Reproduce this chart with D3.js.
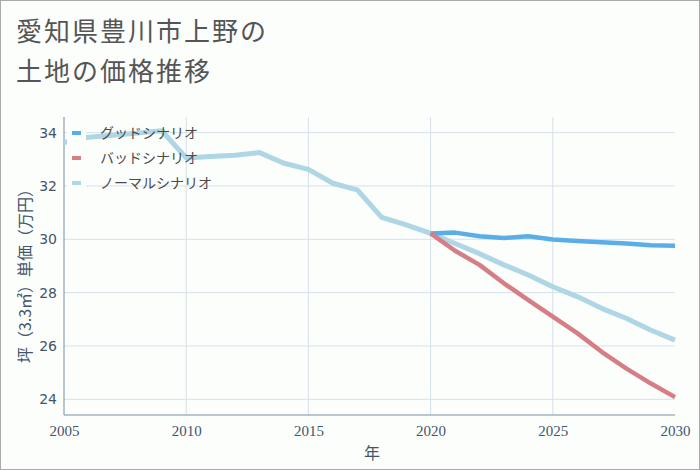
<!DOCTYPE html>
<html><head><meta charset="utf-8">
<script src="https://cdn.jsdelivr.net/npm/d3@7"></script>
<style>body{margin:0;background:#fff;}svg{display:block;}</style>
</head><body><svg id="c" width="700" height="470"></svg>
<script>
const titleLines = ["愛知県豊川市上野の", "土地の価格推移"];
const yearsPast = [2005,2006,2007,2008,2009,2010,2011,2012,2013,2014,2015,2016,2017,2018,2019,2020];
const normalPast = [33.63,33.83,33.9,33.98,34.07,33.05,33.1,33.15,33.25,32.85,32.62,32.1,31.85,30.82,30.54,30.22];
const yearsFuture = [2020,2021,2022,2023,2024,2025,2026,2027,2028,2029,2030];
const goodValues = [30.22,30.25,30.11,30.05,30.11,29.99,29.94,29.89,29.84,29.78,29.76];
const badValues = [30.22,29.57,29.04,28.35,27.72,27.1,26.48,25.78,25.16,24.6,24.08];
const normalFuture = [30.22,29.84,29.46,29.04,28.66,28.22,27.85,27.41,27.04,26.6,26.22];
const yTicks = [24,26,28,30,32,34];
const xTicks = [2005,2010,2015,2020,2025,2030];
const legendNames = ["グッドシナリオ","バッドシナリオ","ノーマルシナリオ"];
const colors = ["#5aaee8","#d57e86","#aed6e4"];
const yTitle = "坪（3.3㎡）単価（万円）";
const xTitle = "年";

(function(){
const svg = d3.select("#c");
svg.append("rect").attr("x",0.5).attr("y",0.5).attr("width",699).attr("height",469)
  .attr("fill","#fcfefc").attr("stroke","#aaaaaa");

const pL=64,pR=675,pT=117,pB=415;
const x = d3.scaleLinear().domain([2005,2030]).range([pL,pR]);
const y = d3.scaleLinear().domain([24,34]).range([399.3,132.6]);

// gridlines
svg.append("g").selectAll("line").data(yTicks).join("line")
  .attr("x1",pL).attr("x2",pR).attr("y1",d=>y(d)).attr("y2",d=>y(d))
  .attr("stroke","#d6e0ea").attr("stroke-width",1);
svg.append("g").selectAll("line").data(xTicks.slice(1,5)).join("line")
  .attr("y1",pT).attr("y2",pB).attr("x1",d=>x(d)).attr("x2",d=>x(d))
  .attr("stroke","#d6e0ea").attr("stroke-width",1);

// axes
const ya = svg.append("g").attr("transform",`translate(${pL},0)`)
  .call(d3.axisLeft(y).tickValues(yTicks).tickSize(0).tickPadding(7).tickFormat(d3.format("d")));
ya.select(".domain").remove();
ya.selectAll("text").attr("font-family","DejaVu Sans, sans-serif").attr("font-size",14).attr("fill","#44546a");
const xa = svg.append("g").attr("transform",`translate(0,${pB})`)
  .call(d3.axisBottom(x).tickValues(xTicks).tickSize(0).tickPadding(10).tickFormat(d3.format("d")));
xa.select(".domain").remove();
xa.selectAll("text").attr("font-family","Liberation Serif, serif").attr("font-size",15).attr("fill","#44546a");
svg.append("line").attr("x1",pL).attr("x2",pL).attr("y1",pT).attr("y2",pB).attr("stroke","#7a8ca0");
svg.append("line").attr("x1",pL).attr("x2",pR).attr("y1",pB).attr("y2",pB).attr("stroke","#7a8ca0");

// titles
svg.append("text").attr("x",372).attr("y",459).attr("text-anchor","middle")
  .attr("font-family","Noto Sans CJK JP, sans-serif").attr("font-size",16).attr("fill","#44546a").text(xTitle);
svg.append("text").attr("transform","translate(31,272) rotate(-90)").attr("text-anchor","middle")
  .attr("font-family","Noto Sans CJK JP, sans-serif").attr("font-size",16).attr("fill","#44546a").text(yTitle);
svg.append("g").selectAll("text").data(titleLines).join("text")
  .attr("x",16).attr("y",(d,i)=>41+i*40).attr("letter-spacing",2)
  .attr("font-family","Noto Sans CJK JP, sans-serif").attr("font-size",26).attr("fill","#555555").text(d=>d);

// lines
const line = d3.line().x(d=>x(d[0])).y(d=>y(d[1]));
const series = [
  {vals:d3.zip(yearsPast,normalPast).concat(d3.zip(yearsFuture,normalFuture).slice(1)), c:colors[2], w:5},
  {vals:d3.zip(yearsFuture,goodValues), c:colors[0], w:4.5},
  {vals:d3.zip(yearsFuture,badValues), c:colors[1], w:4.5}
];
svg.append("g").selectAll("path").data(series).join("path")
  .attr("d",d=>line(d.vals)).attr("fill","none").attr("stroke",d=>d.c).attr("stroke-width",d=>d.w)
  .attr("stroke-linejoin","round");

// legend
svg.append("rect").attr("x",67).attr("y",121).attr("width",19).attr("height",72).attr("fill","#fcfefc");
const lg = svg.append("g").selectAll("g").data(legendNames).join("g")
  .attr("transform",(d,i)=>`translate(0,${133+i*25})`);
lg.append("line").attr("x1",72).attr("x2",81).attr("stroke",(d,i)=>colors[i]).attr("stroke-width",4);
lg.append("text").attr("x",100).attr("y",5).attr("font-family","Noto Sans CJK JP, sans-serif")
  .attr("font-size",14).attr("fill","#4a4a4a").text(d=>d);
})();
</script></body></html>
